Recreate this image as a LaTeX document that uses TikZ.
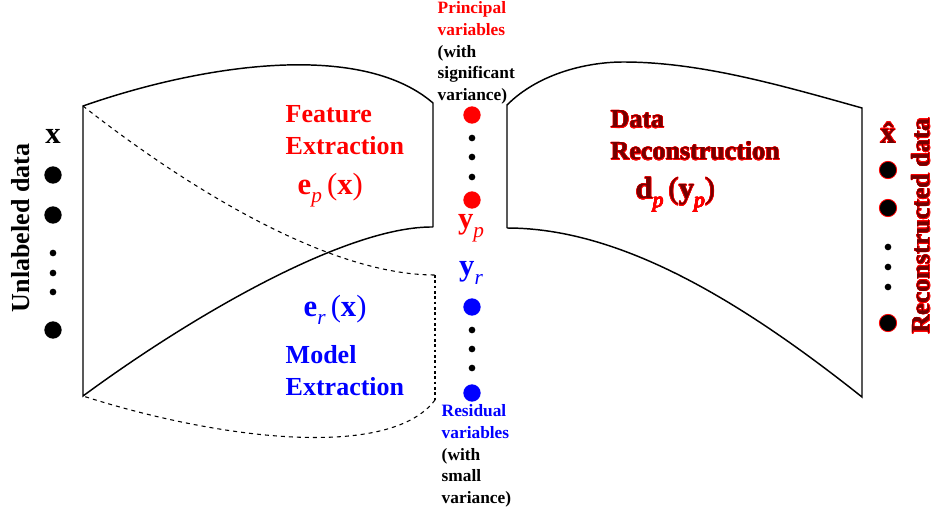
\documentclass[tikz,border=0pt]{standalone}
\usepackage{fontspec}
\setmainfont{Liberation Serif}
\usepackage[copies]{contour}
\contourlength{0.35pt}
\usetikzlibrary{positioning}
\definecolor{recon}{rgb}{0.45,0,0}
\newcommand{\lowidx}[1]{\raisebox{-0.28em}{\fontsize{16}{16}\selectfont\mdseries\itshape #1}}

\begin{document}
\begin{tikzpicture}[x=0.75pt,y=-0.75pt,line width=1.1pt,
  label/.style={font=\fontsize{19.5}{24}\selectfont\bfseries,inner sep=0pt,align=left},
  expr/.style={font=\fontsize{23}{26}\selectfont\bfseries,inner sep=0pt},
  note/.style={font=\fontsize{13}{16.3}\selectfont\bfseries,inner sep=0pt,align=left},
  bigdot/.style={circle,fill,inner sep=0pt,minimum size=13pt},
  smalldot/.style={circle,fill,inner sep=0pt,minimum size=5pt},
  recdot/.style={draw=red,line width=0.6pt,fill=black},
  dashline/.style={line width=0.8pt,dash pattern=on 3pt off 3pt}]
  \useasboundingbox (0,0) rectangle (935,514);

  % encoder
  \draw (433,227) -- (433,103) .. controls (360,40) and (200,65) .. (83,106) -- (83,396)
        .. controls (200,310) and (350,226) .. (433,227);
  \draw[dashline] (83,106) .. controls (190,190) and (330,275) .. (435,275);
  \draw[dashline,dash pattern=on 2pt off 2pt] (435,275) -- (435,400);
  \draw[dashline] (435,400) .. controls (390,460) and (220,440) .. (83,396);

  % decoder
  \draw (507,228) -- (507,105) .. controls (540,72) and (590,62) .. (623,62)
        .. controls (700,62) and (780,85) .. (862,108) -- (862,397)
        .. controls (740,300) and (620,228) .. (507,228);

  % input data
  \node[label,rotate=90] (unlab) at (21,228) {Unlabeled data};
  \node[expr,anchor=base] (x) at (53,143) {x};
  \node[bigdot] (x1) at (53,175) {};
  \node[bigdot] (x2) at (53,215) {};
  \foreach \y [count=\i] in {253,273,292}
    \node[smalldot] (xd\i) at (53,\y) {};
  \node[bigdot] (xn) at (53,330) {};

  % encoder texts
  \node[label,red,anchor=north west] (feat) at (285,105) {Feature\\Extraction};
  \node[expr,red,anchor=west] (ep) at (297,190) {e\lowidx{p}\,{\mdseries(}x{\mdseries)}};
  \node[expr,blue,anchor=west] (er) at (303,310) {e\lowidx{r}\,{\mdseries(}x{\mdseries)}};
  \node[label,blue,anchor=north west] (model) at (285,345) {Model\\Extraction};

  % latent variables
  \node[note,anchor=north west] (princ) at (437,1)
    {\textcolor{red}{Principal}\\\textcolor{red}{variables}\\(with\\significant\\variance)};
  \node[bigdot,red] (p1) at (472,115) {};
  \foreach \y [count=\i] in {138,157,177}
    \node[smalldot] (pd\i) at (472,\y) {};
  \node[bigdot,red] (p2) at (472,200) {};
  \node[expr,red] (yp) at (471,228) {y\lowidx{p}};
  \node[expr,blue] (yr) at (471,273) {y\lowidx{r}};
  \node[bigdot,blue] (r1) at (472,307) {};
  \foreach \y [count=\i] in {330,349,368}
    \node[smalldot] (rd\i) at (472,\y) {};
  \node[bigdot,blue] (r2) at (472,393) {};
  \node[note,anchor=north west] (resid) at (441,404)
    {\textcolor{blue}{Residual}\\\textcolor{blue}{variables}\\(with\\small\\variance)};

  % decoder texts
  \node[label,recon,anchor=north west] (recdata) at (610,110)
    {\contour{red}{Data}\\\contour{red}{Reconstruction}};
  \node[expr,recon,anchor=west] (dp) at (635,195)
    {\contour{red}{d\textcolor{red}{\lowidx{p}}\,{\mdseries(}y\textcolor{red}{\lowidx{p}}{\mdseries)}}};

  % output data
  \node[expr,recon,anchor=base] (xhat) at (888,143) {\contour{red}{\^{x}}};
  \node[bigdot,recdot] (o1) at (888,170) {};
  \node[bigdot,recdot] (o2) at (888,208) {};
  \foreach \y [count=\i] in {247,267,287}
    \node[smalldot] (od\i) at (888,\y) {};
  \node[bigdot,recdot] (on) at (888,323) {};
  \node[label,recon,rotate=90] (recon) at (921,226) {\contour{red}{Reconstructed data}};
\end{tikzpicture}
\end{document}
